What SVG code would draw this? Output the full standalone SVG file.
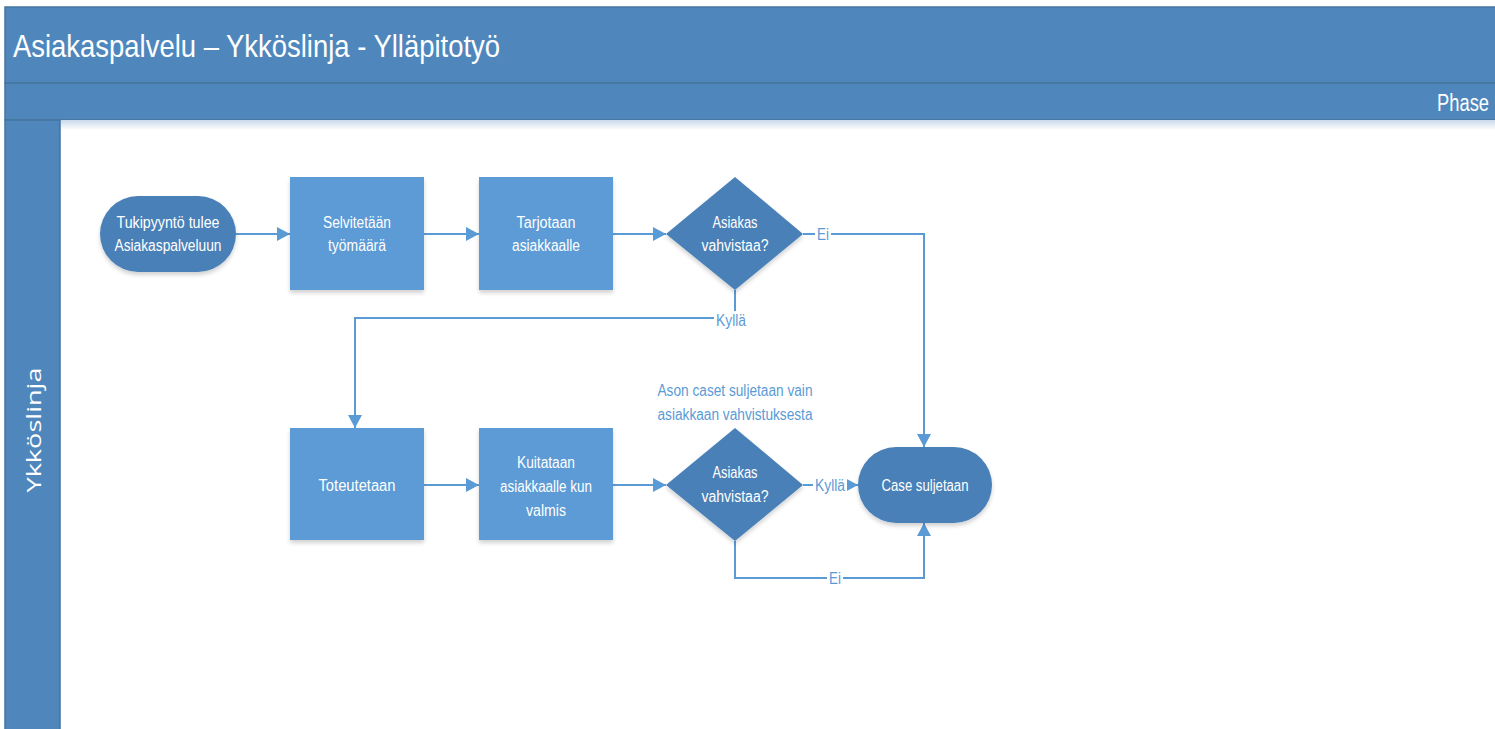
<svg xmlns="http://www.w3.org/2000/svg" width="1495" height="729" viewBox="0 0 1495 729">
<defs>
<style>
.band{fill:#4F87BD;stroke:#44759F;stroke-width:1.5}
.proc{fill:#5B9BD5;filter:url(#sh)}
.dark{fill:#4A80B8;filter:url(#sh)}
.nt{font-family:"Liberation Sans",Arial,sans-serif;font-size:16px;fill:#FFFFFF;text-anchor:middle}
.lbl{font-family:"Liberation Sans",Arial,sans-serif;font-size:16px;fill:#5B9BD5;text-anchor:middle}
.conn{fill:none;stroke:#5B9BD5;stroke-width:2}
.lblbg{fill:#FFFFFF}
</style>
<filter id="sh" x="-10%" y="-10%" width="120%" height="130%">
<feGaussianBlur in="SourceAlpha" stdDeviation="2"/>
<feOffset dx="0" dy="3" result="b"/>
<feComponentTransfer><feFuncA type="linear" slope="0.18"/></feComponentTransfer>
<feMerge><feMergeNode/><feMergeNode in="SourceGraphic"/></feMerge>
</filter>
<marker id="ah" viewBox="0 0 13 14" refX="13" refY="7" markerWidth="13" markerHeight="14" markerUnits="userSpaceOnUse" orient="auto">
<path d="M0,0 L13,7 L0,14 Z" fill="#5B9BD5"/>
</marker>
<linearGradient id="topsh" x1="0" y1="0" x2="0" y2="1">
<stop offset="0" stop-color="#C9D9EA"/>
<stop offset="1" stop-color="#FFFFFF"/>
</linearGradient>
</defs>
<rect width="1495" height="729" fill="#FFFFFF"/>
<g id="pool">
<rect class="band" x="5" y="7" width="1495" height="76"/>
<text x="13" y="57" font-family="'Liberation Sans',Arial,sans-serif" font-size="32" fill="#FFFFFF" textLength="487" lengthAdjust="spacingAndGlyphs">Asiakaspalvelu – Ykköslinja - Ylläpitotyö</text>
<rect class="band" x="5" y="83" width="1495" height="37"/>
<text x="1437" y="111" font-family="'Liberation Sans',Arial,sans-serif" font-size="23" fill="#FFFFFF" textLength="52" lengthAdjust="spacingAndGlyphs">Phase</text>
<rect x="60" y="120" width="1435" height="10" fill="url(#topsh)"/>
<rect class="band" x="5" y="120" width="55" height="615"/>
<text transform="translate(41,430) rotate(-90)" font-family="'Open Sans','Liberation Sans',sans-serif" font-size="20" fill="#FFFFFF" text-anchor="middle" textLength="125" lengthAdjust="spacingAndGlyphs">Ykköslinja</text>
</g>
<g id="connectors">
<line class="conn" x1="236" y1="234" x2="290" y2="234" marker-end="url(#ah)"/>
<line class="conn" x1="424" y1="234" x2="479" y2="234" marker-end="url(#ah)"/>
<line class="conn" x1="613" y1="234" x2="666" y2="234" marker-end="url(#ah)"/>
<polyline class="conn" points="803,234 924,234 924,447" marker-end="url(#ah)"/>
<polyline class="conn" points="735,290 735,318 355,318 355,428" marker-end="url(#ah)"/>
<line class="conn" x1="424" y1="485" x2="479" y2="485" marker-end="url(#ah)"/>
<line class="conn" x1="613" y1="485" x2="666" y2="485" marker-end="url(#ah)"/>
<line class="conn" x1="803" y1="485" x2="858" y2="485" marker-end="url(#ah)"/>
<polyline class="conn" points="735,541 735,578 924,578 924,523" marker-end="url(#ah)"/>
<rect class="lblbg" x="815" y="226" width="16" height="17"/>
<text class="lbl" x="823" y="240" textLength="12" lengthAdjust="spacingAndGlyphs">Ei</text>
<rect class="lblbg" x="714" y="311" width="34" height="18"/>
<text class="lbl" x="731" y="326" textLength="30" lengthAdjust="spacingAndGlyphs">Kyllä</text>
<rect class="lblbg" x="813" y="477" width="34" height="18"/>
<text class="lbl" x="830" y="491" textLength="30" lengthAdjust="spacingAndGlyphs">Kyllä</text>
<rect class="lblbg" x="827" y="570" width="16" height="17"/>
<text class="lbl" x="835" y="584" textLength="12" lengthAdjust="spacingAndGlyphs">Ei</text>
</g>
<g id="start">
<rect class="dark" x="100" y="196" width="136" height="76" rx="38" ry="38"/>
<text class="nt" x="168" y="228" textLength="103" lengthAdjust="spacingAndGlyphs">Tukipyyntö tulee</text>
<text class="nt" x="168" y="251" textLength="107" lengthAdjust="spacingAndGlyphs">Asiakaspalveluun</text>
</g>
<g id="selvitetaan">
<rect class="proc" x="290" y="177" width="134" height="113"/>
<text class="nt" x="357" y="228" textLength="68" lengthAdjust="spacingAndGlyphs">Selvitetään</text>
<text class="nt" x="357" y="251" textLength="58" lengthAdjust="spacingAndGlyphs">työmäärä</text>
</g>
<g id="tarjotaan">
<rect class="proc" x="479" y="177" width="134" height="113"/>
<text class="nt" x="546" y="228" textLength="59" lengthAdjust="spacingAndGlyphs">Tarjotaan</text>
<text class="nt" x="546" y="251" textLength="68" lengthAdjust="spacingAndGlyphs">asiakkaalle</text>
</g>
<g id="decision1">
<polygon class="dark" points="735,177 803,234 735,290 666,234"/>
<text class="nt" x="735" y="228" textLength="45" lengthAdjust="spacingAndGlyphs">Asiakas</text>
<text class="nt" x="735" y="251" textLength="67" lengthAdjust="spacingAndGlyphs">vahvistaa?</text>
</g>
<g id="toteutetaan">
<rect class="proc" x="290" y="428" width="134" height="112"/>
<text class="nt" x="357" y="491" textLength="77" lengthAdjust="spacingAndGlyphs">Toteutetaan</text>
</g>
<g id="kuitataan">
<rect class="proc" x="479" y="428" width="134" height="112"/>
<text class="nt" x="546" y="468" textLength="58" lengthAdjust="spacingAndGlyphs">Kuitataan</text>
<text class="nt" x="546" y="492" textLength="92" lengthAdjust="spacingAndGlyphs">asiakkaalle kun</text>
<text class="nt" x="546" y="516" textLength="40" lengthAdjust="spacingAndGlyphs">valmis</text>
</g>
<g id="decision2">
<polygon class="dark" points="735,428 803,485 735,541 666,485"/>
<text class="nt" x="735" y="478" textLength="45" lengthAdjust="spacingAndGlyphs">Asiakas</text>
<text class="nt" x="735" y="502" textLength="67" lengthAdjust="spacingAndGlyphs">vahvistaa?</text>
</g>
<g id="note">
<text class="lbl" x="735" y="396" textLength="155" lengthAdjust="spacingAndGlyphs">Ason caset suljetaan vain</text>
<text class="lbl" x="735" y="420" textLength="155" lengthAdjust="spacingAndGlyphs">asiakkaan vahvistuksesta</text>
</g>
<g id="end">
<rect class="dark" x="858" y="447" width="134" height="76" rx="38" ry="38"/>
<text class="nt" x="925" y="491" textLength="87" lengthAdjust="spacingAndGlyphs">Case suljetaan</text>
</g>
</svg>
